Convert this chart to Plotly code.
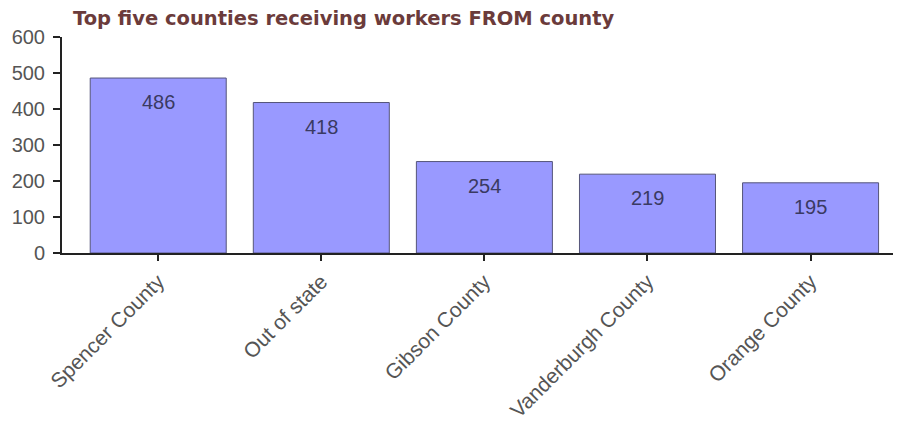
import plotly.graph_objects as go

categories = ["Spencer County", "Out of state", "Gibson County", "Vanderburgh County", "Orange County"]
values = [486, 418, 254, 219, 195]
title_text = "Top five counties receiving workers FROM county"

W, H = 893, 419  # page body adds an 8px offset

fig = go.Figure()
fig.add_trace(go.Bar(
    x=categories, y=values,
    marker=dict(color="#9999ff", line=dict(color="#55557a", width=1)),
    hoverinfo="skip",
))
for c, v in zip(categories, values):
    fig.add_annotation(x=c, y=v, text=str(v), showarrow=False, yanchor="top", yshift=-11,
                       font=dict(family="Liberation Sans, Arial", size=20, color="#3a3a62"))

fig.update_layout(
    width=W, height=H,
    margin=dict(l=54, r=4, t=29, b=174),
    paper_bgcolor="white", plot_bgcolor="white",
    bargap=0.166, showlegend=False,
    title=dict(text="<b>" + title_text + "</b>", x=65/W, xanchor="left", y=1-10/H, yanchor="middle",
               font=dict(family="DejaVu Sans, Verdana", size=19.5, color="#6b3b3b")),
    xaxis=dict(range=[-0.59, 4.53], showline=True, linecolor="#222", linewidth=2,
               ticks="outside", ticklen=6, tickcolor="#222", tickwidth=2, tickangle=-45,
               tickfont=dict(family="Liberation Sans, Arial", size=21, color="#555"),
               showgrid=False, automargin=False),
    yaxis=dict(range=[0, 600], dtick=100, showline=True, linecolor="#222", linewidth=2,
               ticks="outside", ticklen=7, tickcolor="#222", tickwidth=2,
               ticklabelstandoff=4,
               tickfont=dict(family="Liberation Sans, Arial", size=20, color="#555"),
               showgrid=False, zeroline=False, automargin=False),
)
fig.write_html("out.html")
